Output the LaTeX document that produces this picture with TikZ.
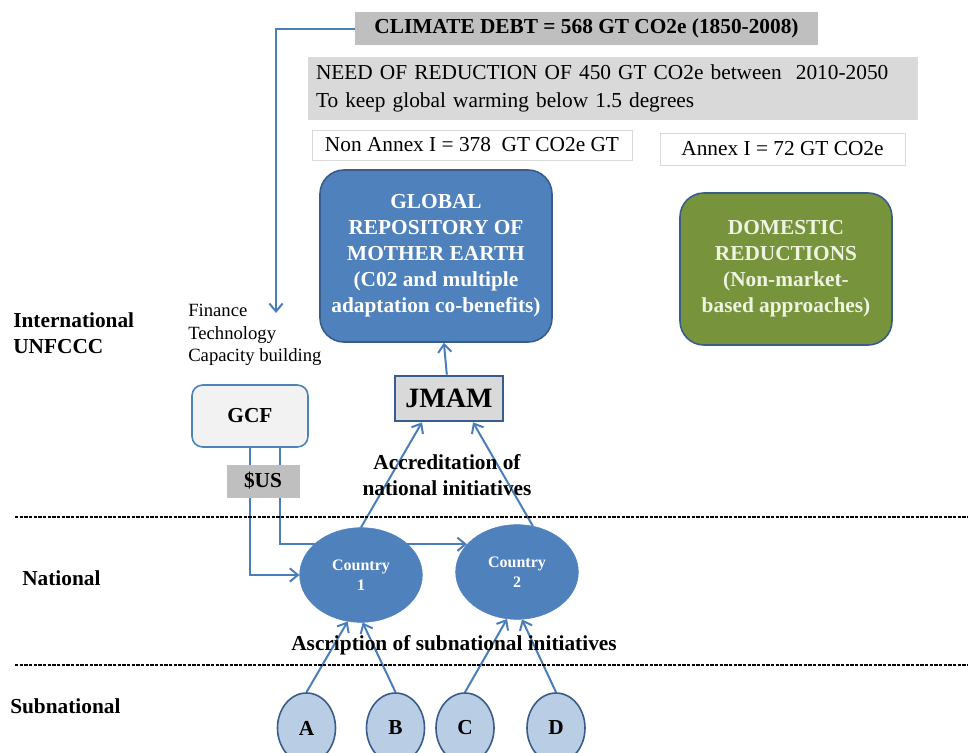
\documentclass[tikz,border=0pt]{standalone}
\usepackage{fontspec}
\setmainfont{Liberation Serif}
\usetikzlibrary{arrows.meta}
\usetikzlibrary{shapes.geometric}
\usetikzlibrary{backgrounds}

\definecolor{lineblue}{HTML}{4A7EBB}
\definecolor{boxblue}{HTML}{4F81BD}
\definecolor{edgeblue}{HTML}{385D8A}
\definecolor{paleblue}{HTML}{B9CDE5}
\definecolor{domgreen}{HTML}{77933C}
\definecolor{domtext}{HTML}{EEF3E2}
\definecolor{boxgrey}{HTML}{BFBFBF}
\definecolor{panegrey}{HTML}{D9D9D9}
\definecolor{gcfgrey}{HTML}{F2F2F2}

\begin{document}
\begin{tikzpicture}[x=0.75pt, y=-0.75pt,
		L/.style={line width=1.5pt, draw=lineblue, -{Straight Barb[length=6pt, width=10pt]}},
		cut/.style={line width=1.1pt, dash pattern=on 2.5pt off 1pt},
		txt/.style={inner sep=0pt, font=\fontsize{16}{21}\selectfont},
		btxt/.style={inner sep=0pt, align=center, font=\bfseries\fontsize{16}{19.5}\selectfont},
		country/.style={ellipse, fill=boxblue, draw=boxblue, minimum width=92pt, minimum height=71pt, text=white, align=center, font=\bfseries\fontsize{12}{15}\selectfont},
		sub/.style={ellipse, fill=paleblue, draw=edgeblue, line width=1.2pt, minimum width=43.5pt, minimum height=52.5pt, font=\bfseries\fontsize{16}{19}\selectfont}]
		\useasboundingbox (0,0) rectangle (968,753);
		
		% boxes on top
		\node [txt, fill=boxgrey, minimum width=347pt, minimum height=24.75pt, font=\bfseries\fontsize{16}{19}\selectfont] (debt) at (586.5,28.5) {CLIMATE DEBT = 568 GT CO2e (1850-2008)};
		\node [txt, fill=panegrey, minimum width=457.5pt, minimum height=47.25pt, text width=445.5pt, align=left] (need) at (613,88.5) {NEED OF REDUCTION OF 450 GT CO2e between\ \ 2010-2050\\To keep global warming below 1.5 degrees};
		\node [txt, draw=panegrey, fill=white, minimum width=240pt, minimum height=22.5pt] (nonannex) at (472,145) {Non Annex I = 378\ \ GT CO2e GT};
		\node [txt, draw=panegrey, fill=white, minimum width=183.75pt, minimum height=24pt] (annex) at (782.5,149) {Annex I = 72 GT CO2e};
		
		\node [btxt, fill=boxblue, draw=edgeblue, line width=1.2pt, rounded corners=18pt, minimum width=174pt, minimum height=129pt, text=white] (global) at (436,256) {GLOBAL\\REPOSITORY OF\\MOTHER EARTH\\(C02 and multiple\\adaptation co-benefits)};
		\node [btxt, fill=domgreen, draw=edgeblue, line width=1.2pt, rounded corners=18pt, minimum width=159pt, minimum height=114pt, text=domtext] (domestic) at (786,269) {DOMESTIC\\REDUCTIONS\\(Non-market-\\based approaches)};
		
		% levels
		\node [btxt, anchor=west, align=left] (intl) at (13,333) {International\\UNFCCC};
		\node [btxt, anchor=west] (natl) at (22,578) {National};
		\node [btxt, anchor=west] (subn) at (10,706) {Subnational};
		\draw [cut] (15,517) -- (968,517);
		\draw [cut] (15,665) -- (968,665);
		
		\node [inner sep=0pt, anchor=west, align=left, font=\fontsize{14}{17}\selectfont] (means) at (188,335) {Finance\\Technology\\Capacity building};
		\coordinate (fin) at (276,313);
		
		\node [btxt, fill=gcfgrey, draw=boxblue, line width=1.2pt, rounded corners=8pt, minimum width=87pt, minimum height=46.5pt, font=\bfseries\fontsize{16}{19}\selectfont] (gcf) at (250,416) {GCF};
		\node [btxt, fill=boxgrey, minimum width=54.75pt, minimum height=24.75pt] (usd) at (263,481) {\$US};
		\node [btxt, fill=panegrey, draw=edgeblue, line width=2pt, minimum width=81pt, minimum height=33.75pt, font=\bfseries\fontsize{21}{24}\selectfont] (jmam) at (449,398.5) {JMAM};
		
		\node [country] (c1) at (361,575) {Country\\1};
		\node [country] (c2) at (517,572) {Country\\2};
		
		\node [sub] (a) at (306.5,728) {A};
		\node [sub] (b) at (395.5,728) {B};
		\node [sub] (c) at (465,728) {C};
		\node [sub] (d) at (556,728) {D};
		
		% write labels
		\node [btxt] (accr) at (447,475) {Accreditation of\\national initiatives};
		\node [btxt] (ascr) at (454,645) {Ascription of subnational initiatives};
		
		% connectors
		\begin{pgfonlayer}{background}
		\draw [L] (debt.west) -| (fin);
		\draw [L] (jmam) -- (global);
		\draw [L] (c1.north) -- ([xshift=-20.25pt]jmam.south);
		\draw [L] (c2.71) -- ([xshift=18pt]jmam.south);
		\draw [L] (gcf.south) |- (c1.west);
		\draw [L] ([xshift=22.5pt]gcf.south) |- (c2.151);
		\draw [L] (a.north) -- (c1.254);
		\draw [L] (b.north) -- (c1.272);
		\draw [L] (c.north) -- (c2.258);
		\draw [L] (d.north) -- (c2.276);
		\end{pgfonlayer}
		
\end{tikzpicture}
\end{document}
